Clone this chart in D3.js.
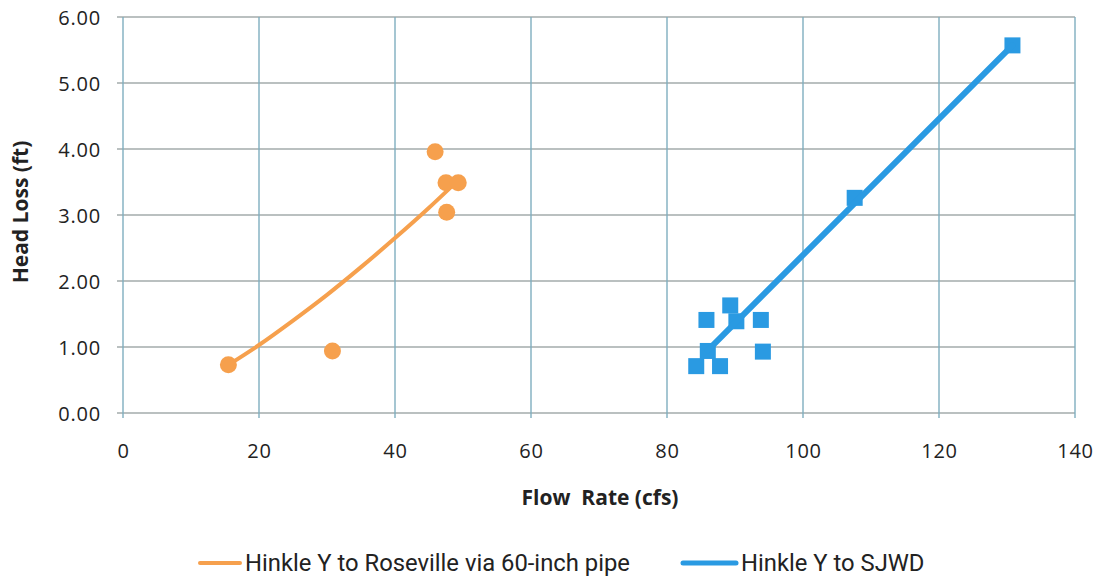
<!DOCTYPE html>
<html>
<head>
<meta charset="utf-8">
<script src="https://cdn.jsdelivr.net/npm/d3@7"></script>
<style>
  html, body { margin: 0; padding: 0; background: #fff; }
  svg { display: block; }
</style>
</head>
<body>
<svg id="chart" width="1099" height="578"></svg>
<script>
// Measured head loss vs. flow, Hinkle Y to Roseville via 60-inch pipe
const rosevilleFlow = [15.5, 30.8, 45.9, 47.5, 49.3, 47.6];
const rosevilleLoss = [0.73, 0.94, 3.96, 3.49, 3.49, 3.04];
// Trend curve for the Roseville series
const rosevilleTrendFlow = [15.5, 20, 25, 30, 35, 40, 45, 48];
const rosevilleTrendLoss = [0.73, 1.03, 1.40, 1.79, 2.21, 2.65, 3.11, 3.40];

// Measured head loss vs. flow, Hinkle Y to SJWD
const sjwdFlow = [84.3, 87.8, 86.0, 85.8, 89.3, 90.2, 93.8, 94.1, 107.6, 130.8];
const sjwdLoss = [0.71, 0.71, 0.94, 1.41, 1.63, 1.39, 1.41, 0.93, 3.26, 5.57];
// Trend line for the SJWD series
const sjwdTrendFlow = [86.0, 130.8];
const sjwdTrendLoss = [0.95, 5.57];

const xTicks = [0, 20, 40, 60, 80, 100, 120, 140];
const yTicks = [0, 1, 2, 3, 4, 5, 6];

const seriesNames = ["Hinkle Y to Roseville via 60-inch pipe", "Hinkle Y to SJWD"];
const orange = "#F6A04D";
const blue = "#2A9AE2";

const svg = d3.select("#chart");
const plot = { left: 123, right: 1075, top: 17, bottom: 413 };

const x = d3.scaleLinear().domain([0, 140]).range([plot.left, plot.right]);
const y = d3.scaleLinear().domain([0, 6]).range([plot.bottom, plot.top]);

// gridlines
svg.append("g").selectAll("line").data(yTicks).join("line")
  .attr("x1", plot.left - 6).attr("x2", plot.right)
  .attr("y1", d => y(d)).attr("y2", d => y(d))
  .attr("stroke", "#a3abab").attr("stroke-width", 1.4);
svg.append("g").selectAll("line").data(xTicks).join("line")
  .attr("x1", d => x(d)).attr("x2", d => x(d))
  .attr("y1", plot.top).attr("y2", plot.bottom + 5)
  .attr("stroke", "#7faebf").attr("stroke-width", 1.4);

const tickFont = sel => sel
  .style("font-family", "'Open Sans', sans-serif").style("font-size", "20px")
  .style("letter-spacing", "0.8px").attr("fill", "#222");

// axes (labels only; lines come from the grid)
const xAxis = d3.axisBottom(x).tickValues(xTicks).tickSize(0).tickPadding(0).tickFormat(d3.format("d"));
const gx = svg.append("g").attr("transform", `translate(0,${plot.bottom})`).call(xAxis);
gx.select(".domain").remove();
gx.selectAll("text").attr("dy", 0).attr("y", 45).call(tickFont);

const yAxis = d3.axisLeft(y).tickValues(yTicks).tickSize(0).tickPadding(0).tickFormat(d3.format(".2f"));
const gy = svg.append("g").attr("transform", `translate(${plot.left},0)`).call(yAxis);
gy.select(".domain").remove();
gy.selectAll("text").attr("x", -22).attr("dy", "0.36em").call(tickFont);

// axis titles
svg.append("text").attr("x", 600).attr("y", 505).attr("text-anchor", "middle")
  .style("font-family", "'Open Sans', sans-serif").style("font-size", "21px").style("font-weight", "bold")
  .attr("fill", "#222").attr("xml:space", "preserve").text("Flow  Rate (cfs)");
svg.append("text").attr("transform", "translate(28,212) rotate(-90)").attr("text-anchor", "middle")
  .style("font-family", "'Open Sans', sans-serif").style("font-size", "21px").style("font-weight", "bold")
  .attr("fill", "#222").text("Head Loss (ft)");

const line = d3.line().x(d => x(d[0])).y(d => y(d[1])).curve(d3.curveMonotoneX);

// Roseville series
svg.append("path").datum(d3.zip(rosevilleTrendFlow, rosevilleTrendLoss))
  .attr("d", line).attr("fill", "none").attr("stroke", orange).attr("stroke-width", 4)
  .attr("stroke-linecap", "round");
svg.append("g").selectAll("circle").data(d3.zip(rosevilleFlow, rosevilleLoss)).join("circle")
  .attr("cx", d => x(d[0])).attr("cy", d => y(d[1])).attr("r", 8.5).attr("fill", orange);

// SJWD series
const sq = 16;
svg.append("g").selectAll("rect").data(d3.zip(sjwdFlow, sjwdLoss)).join("rect")
  .attr("x", d => x(d[0]) - sq / 2).attr("y", d => y(d[1]) - sq / 2)
  .attr("width", sq).attr("height", sq).attr("fill", blue);
svg.append("path").datum(d3.zip(sjwdTrendFlow, sjwdTrendLoss))
  .attr("d", line).attr("fill", "none").attr("stroke", blue).attr("stroke-width", 6)
  .attr("stroke-linecap", "round");

// legend
const legend = [
  { name: seriesNames[0], color: orange, lx: 200, lw: 40, w: 4 },
  { name: seriesNames[1], color: blue, lx: 683, lw: 53, w: 5 }
];
const lg = svg.append("g");
legend.forEach(l => {
  lg.append("line").attr("x1", l.lx).attr("x2", l.lx + l.lw).attr("y1", 563).attr("y2", 563)
    .attr("stroke", l.color).attr("stroke-width", l.w).attr("stroke-linecap", "round");
  lg.append("text").attr("x", l.lx + l.lw + 5).attr("y", 571)
    .style("font-family", "Roboto, sans-serif")
    .style("font-size", "23.8px").attr("fill", "#222").text(l.name);
});
</script>
</body>
</html>
